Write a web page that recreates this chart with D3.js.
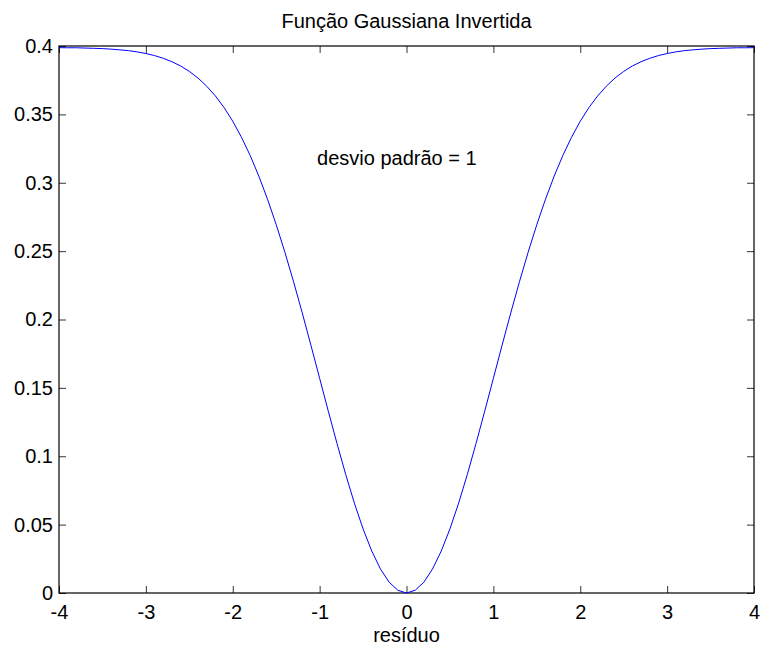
<!DOCTYPE html>
<html>
<head>
<meta charset="utf-8">
<script src="https://cdn.jsdelivr.net/npm/d3@7"></script>
<style>
  body { margin: 0; background: #fff; }
  text { font-family: "Liberation Sans", Arial, sans-serif; fill: #000; }
</style>
</head>
<body>
<div id="chart"></div>
<script>
// resíduo (x) e valor da gaussiana invertida (y)
const residuos = [
  -4.0, -3.9, -3.8, -3.7, -3.6, -3.5, -3.4, -3.3, -3.2, -3.1,
  -3.0, -2.9, -2.8, -2.7, -2.6, -2.5, -2.4, -2.3, -2.2, -2.1,
  -2.0, -1.9, -1.8, -1.7, -1.6, -1.5, -1.4, -1.3, -1.2, -1.1,
  -1.0, -0.9, -0.8, -0.7, -0.6, -0.5, -0.4, -0.3, -0.2, -0.1,
  0.0,
  0.1, 0.2, 0.3, 0.4, 0.5, 0.6, 0.7, 0.8, 0.9, 1.0,
  1.1, 1.2, 1.3, 1.4, 1.5, 1.6, 1.7, 1.8, 1.9, 2.0,
  2.1, 2.2, 2.3, 2.4, 2.5, 2.6, 2.7, 2.8, 2.9, 3.0,
  3.1, 3.2, 3.3, 3.4, 3.5, 3.6, 3.7, 3.8, 3.9, 4.0
];
const valores = [
  0.3988, 0.3987, 0.3987, 0.3985, 0.3983, 0.3981, 0.3977, 0.3972, 0.3966, 0.3957,
  0.3945, 0.3930, 0.3910, 0.3885, 0.3854, 0.3814, 0.3766, 0.3706, 0.3635, 0.3550,
  0.3450, 0.3333, 0.3200, 0.3049, 0.2880, 0.2694, 0.2492, 0.2276, 0.2048, 0.1811,
  0.1570, 0.1329, 0.1093, 0.0867, 0.0657, 0.0469, 0.0307, 0.0176, 0.0079, 0.0020,
  0.0000,
  0.0020, 0.0079, 0.0176, 0.0307, 0.0469, 0.0657, 0.0867, 0.1093, 0.1329, 0.1570,
  0.1811, 0.2048, 0.2276, 0.2492, 0.2694, 0.2880, 0.3049, 0.3200, 0.3333, 0.3450,
  0.3550, 0.3635, 0.3706, 0.3766, 0.3814, 0.3854, 0.3885, 0.3910, 0.3930, 0.3945,
  0.3957, 0.3966, 0.3972, 0.3977, 0.3981, 0.3983, 0.3985, 0.3987, 0.3987, 0.3988
];
const xTicks = [-4, -3, -2, -1, 0, 1, 2, 3, 4];
const yTicks = [0, 0.05, 0.1, 0.15, 0.2, 0.25, 0.3, 0.35, 0.4];

const width = 760, height = 645;
const margin = { top: 46, right: 6, bottom: 52, left: 59 };
const w = width - margin.left - margin.right;
const h = height - margin.top - margin.bottom;
const fs = '20px';

const svg = d3.select('#chart').append('svg')
  .attr('width', width).attr('height', height);

const g = svg.append('g')
  .attr('transform', `translate(${margin.left},${margin.top})`);

const x = d3.scaleLinear().domain([-4, 4]).range([0, w]);
const y = d3.scaleLinear().domain([0, 0.4]).range([h, 0]);

const tk = 7;
const fmt = d => String(d);

// eixos (ticks para dentro, como no MATLAB)
const xb = g.append('g').attr('transform', `translate(0,${h})`)
  .call(d3.axisBottom(x).tickValues(xTicks).tickFormat(fmt).tickSizeInner(-tk).tickSizeOuter(0).tickPadding(12));
const xt = g.append('g')
  .call(d3.axisTop(x).tickValues(xTicks).tickFormat('').tickSizeInner(-tk).tickSizeOuter(0));
const yl = g.append('g')
  .call(d3.axisLeft(y).tickValues(yTicks).tickFormat(fmt).tickSizeInner(-tk).tickSizeOuter(0).tickPadding(6));
const yr = g.append('g').attr('transform', `translate(${w},0)`)
  .call(d3.axisRight(y).tickValues(yTicks).tickFormat('').tickSizeInner(-tk).tickSizeOuter(0));

[xb, xt, yl, yr].forEach(a => {
  a.select('.domain').remove();
  a.selectAll('line').attr('stroke', '#000').attr('stroke-width', 0.8);
  a.selectAll('text').style('font-size', fs).style('font-family', '"Liberation Sans", Arial, sans-serif').attr('fill', '#000');
});

// caixa
g.append('rect')
  .attr('x', 0).attr('y', 0).attr('width', w).attr('height', h)
  .attr('fill', 'none').attr('stroke', '#000').attr('stroke-width', 1.2);

// curva
const pontos = residuos.map((r, i) => [r, valores[i]]);
g.append('path')
  .datum(pontos)
  .attr('fill', 'none')
  .attr('stroke', '#0000ff')
  .attr('stroke-width', 1)
  .attr('d', d3.line().x(d => x(d[0])).y(d => y(d[1])));

// anotação
g.append('text')
  .attr('x', x(-1.03)).attr('y', y(0.32))
  .attr('dy', '0.5em')
  .style('font-size', fs)
  .text('desvio padrão = 1');

// título
svg.append('text')
  .attr('x', margin.left + w / 2).attr('y', 28)
  .attr('text-anchor', 'middle')
  .style('font-size', fs)
  .text('Função Gaussiana Invertida');

// rótulo x
svg.append('text')
  .attr('x', margin.left + w / 2).attr('y', 642)
  .attr('text-anchor', 'middle')
  .style('font-size', fs)
  .text('resíduo');
</script>
</body>
</html>
